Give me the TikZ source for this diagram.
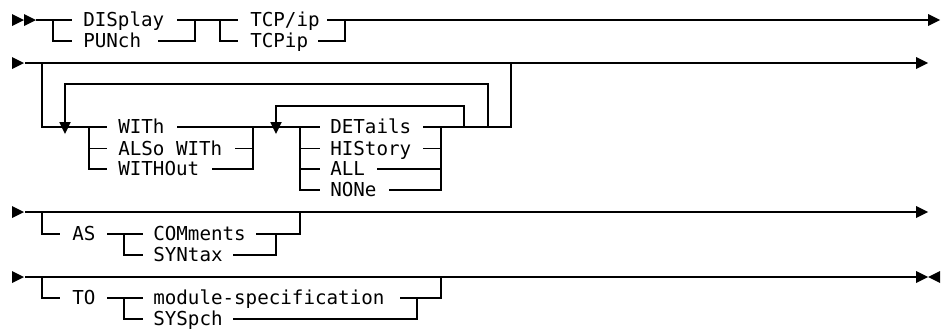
\documentclass[tikz,border=0pt]{standalone}
\usepackage{fontspec}
\newfontfamily\dmono{DejaVu Sans Mono}
\begin{document}
\begin{tikzpicture}[x=0.75pt,y=-0.75pt,
  rail/.style={draw=black,line width=1.1pt},
  lbl/.style={anchor=base west,inner sep=0pt,font=\dmono\fontsize{14.4pt}{16pt}\selectfont}]
\useasboundingbox (0,0) rectangle (945,329);
\newcommand\rtip[1]{\fill (#1) ++(0,-6) -- ++(12,6) -- ++(-12,6) -- cycle;}
\newcommand\ltip[1]{\fill (#1) ++(0,-6) -- ++(-12,6) -- ++(12,6) -- cycle;}
\newcommand\dtip[1]{\fill (#1) ++(-5.75,-5) -- ++(11.5,0) -- ++(-5.75,12) -- cycle;}
% ---------------- row 0/1
\coordinate (S0a) at (12,20); \coordinate (S0b) at (24,20);
\coordinate (A0) at (36,20);
\coordinate (J1) at (53,20); \coordinate (J1b) at (53,41);
\coordinate (L1e) at (72,20); \coordinate (L1be) at (72,41);
\node[lbl] (DIS) at (83,26.7) {DISplay};
\node[lbl] (PUN) at (83,47.7) {PUNch};
\coordinate (D1s) at (177,20); \coordinate (P1s) at (158,41);
\coordinate (J2) at (195,20); \coordinate (J2b) at (195,41);
\coordinate (J3) at (220,20); \coordinate (J3b) at (220,41);
\coordinate (T1e) at (238,20); \coordinate (T1be) at (238,41);
\node[lbl] (TCPa) at (250,26.7) {TCP/ip};
\node[lbl] (TCPb) at (250,47.7) {TCPip};
\coordinate (T2s) at (327,20); \coordinate (T3s) at (318,41);
\coordinate (J4) at (345,20); \coordinate (J4b) at (345,41);
\coordinate (E0) at (928,20);
\rtip{S0a} \rtip{S0b}
\draw[rail] (A0) -- (L1e);
\draw[rail] (J1) -- (J1b) -- (L1be);
\draw[rail] (D1s) -- (T1e);
\draw[rail] (P1s) -- (J2b) -- (J2);
\draw[rail] (J3) -- (J3b) -- (T1be);
\draw[rail] (T2s) -- (E0);
\draw[rail] (T3s) -- (J4b) -- (J4);
\rtip{E0}
% ---------------- rows 2..8
\coordinate (S2) at (12,63); \coordinate (A2) at (25,63); \coordinate (E2) at (916,63);
\coordinate (K1) at (42,63); \coordinate (K1b) at (42,127);
\coordinate (K2) at (511,63); \coordinate (K2b) at (511,127);
\coordinate (V1t) at (65,122); \coordinate (V1) at (65,84);
\coordinate (R3) at (488,84); \coordinate (R3b) at (488,127);
\coordinate (V2t) at (276,122); \coordinate (V2) at (276,106);
\coordinate (R4) at (464,106); \coordinate (R4b) at (464,127);
\coordinate (D1) at (65,127); \coordinate (D2) at (276,127);
\coordinate (W0e) at (107,127);
\coordinate (G1) at (89,127); \coordinate (G1m) at (89,148.5); \coordinate (G1c) at (89,169);
\coordinate (G1me) at (107,148.5); \coordinate (G1ce) at (107,169);
\node[lbl] (WITH) at (118,133.7) {WITh};
\node[lbl] (ALSO) at (118,155.2) {ALSo WITh};
\node[lbl] (WOUT) at (118,175.7) {WITHOut};
\coordinate (W1s) at (177,127); \coordinate (W1e) at (320,127);
\coordinate (W2s) at (235,148.5); \coordinate (W2e) at (253,148.5);
\coordinate (W3s) at (212,169); \coordinate (H1c) at (253,169); \coordinate (H1) at (253,127);
\coordinate (G2) at (300,127); \coordinate (G2a) at (300,148.5); \coordinate (G2b) at (300,169); \coordinate (G2c) at (300,190);
\coordinate (G2ae) at (320,148.5); \coordinate (G2be) at (320,169); \coordinate (G2ce) at (320,190);
\node[lbl] (DET) at (330,133.7) {DETails};
\node[lbl] (HIS) at (330,155.2) {HIStory};
\node[lbl] (ALL) at (330,175.7) {ALL};
\node[lbl] (NON) at (330,196.7) {NONe};
\coordinate (X1s) at (423,127);
\coordinate (X2s) at (423,148.5); \coordinate (X2e) at (441,148.5);
\coordinate (X3s) at (377,169); \coordinate (X3e) at (441,169);
\coordinate (X4s) at (389,190); \coordinate (H2c) at (441,190); \coordinate (H2) at (441,127);
\rtip{S2}
\draw[rail] (A2) -- (E2);
\rtip{E2}
\draw[rail] (K1) -- (K1b) -- (W0e);
\draw[rail] (V1t) -- (V1) -- (R3) -- (R3b);
\draw[rail] (V2t) -- (V2) -- (R4) -- (R4b);
\draw[rail] (G1) -- (G1c) -- (G1ce);
\draw[rail] (G1m) -- (G1me);
\draw[rail] (W1s) -- (W1e);
\draw[rail] (W2s) -- (W2e);
\draw[rail] (W3s) -- (H1c) -- (H1);
\draw[rail] (G2) -- (G2c) -- (G2ce);
\draw[rail] (G2a) -- (G2ae);
\draw[rail] (G2b) -- (G2be);
\draw[rail] (X1s) -- (K2b) -- (K2);
\draw[rail] (X2s) -- (X2e);
\draw[rail] (X3s) -- (X3e);
\draw[rail] (X4s) -- (H2c) -- (H2);
\dtip{D1} \dtip{D2}
% ---------------- rows 9..11
\coordinate (S9) at (12,212); \coordinate (A9) at (25,212); \coordinate (E9) at (916,212);
\coordinate (M1) at (42,212); \coordinate (M1b) at (42,234); \coordinate (M1e) at (60,234);
\node[lbl] (AS) at (72,240.7) {AS};
\coordinate (N1s) at (107,234); \coordinate (N1e) at (143,234);
\coordinate (N2) at (124,234); \coordinate (N2b) at (124,255); \coordinate (N2e) at (143,255);
\node[lbl] (COM) at (153,240.7) {COMments};
\node[lbl] (SYN) at (153,261.7) {SYNtax};
\coordinate (C1s) at (256,234); \coordinate (C1e) at (300,234); \coordinate (C1t) at (300,212);
\coordinate (C2s) at (233,255); \coordinate (C2c) at (276,255); \coordinate (C2t) at (276,234);
\rtip{S9}
\draw[rail] (A9) -- (E9);
\rtip{E9}
\draw[rail] (M1) -- (M1b) -- (M1e);
\draw[rail] (N1s) -- (N1e);
\draw[rail] (N2) -- (N2b) -- (N2e);
\draw[rail] (C1s) -- (C1e) -- (C1t);
\draw[rail] (C2s) -- (C2c) -- (C2t);
% ---------------- rows 12..14
\coordinate (S12) at (12,277); \coordinate (A12) at (25,277); \coordinate (E12) at (916,277);
\coordinate (F12) at (940,277);
\coordinate (P1) at (42,277); \coordinate (P1b) at (42,298); \coordinate (P1e) at (60,298);
\node[lbl] (TO) at (72,304.7) {TO};
\coordinate (Q1s) at (107,298); \coordinate (Q1e) at (143,298);
\coordinate (Q2) at (124,298); \coordinate (Q2b) at (124,319); \coordinate (Q2e) at (143,319);
\node[lbl] (MOD) at (153,304.7) {module-specification};
\node[lbl] (SYS) at (153,325.7) {SYSpch};
\coordinate (U1s) at (400,298); \coordinate (U1e) at (441,298); \coordinate (U1t) at (441,277);
\coordinate (U2s) at (233,319); \coordinate (U2c) at (417,319); \coordinate (U2t) at (417,298);
\rtip{S12}
\draw[rail] (A12) -- (E12);
\rtip{E12} \ltip{F12}
\draw[rail] (P1) -- (P1b) -- (P1e);
\draw[rail] (Q1s) -- (Q1e);
\draw[rail] (Q2) -- (Q2b) -- (Q2e);
\draw[rail] (U1s) -- (U1e) -- (U1t);
\draw[rail] (U2s) -- (U2c) -- (U2t);
\end{tikzpicture}
\end{document}
